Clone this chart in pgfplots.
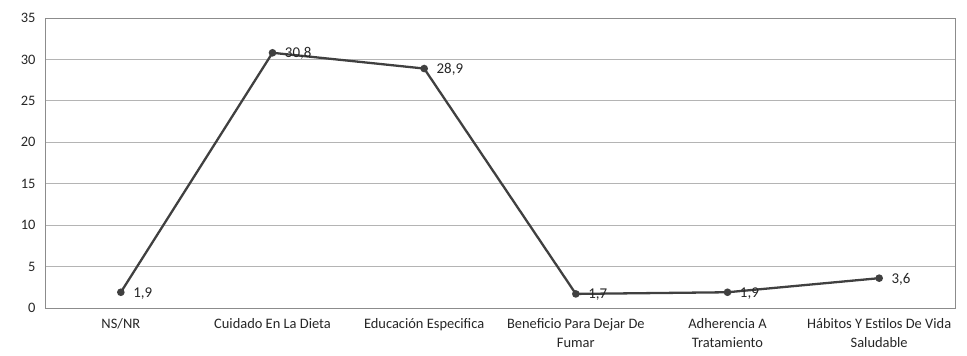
\documentclass[border=0pt]{standalone}
\usepackage{pgfplots}
\pgfplotsset{compat=1.18}
\usepackage{fontspec}
\setmainfont{Carlito}
\definecolor{linegray}{HTML}{404040}
\definecolor{gridgray}{HTML}{B4B4B4}
\definecolor{framegray}{HTML}{8C8C8C}
\definecolor{textgray}{HTML}{262626}
\begin{document}
\begin{tikzpicture}
\begin{axis}[
  scale only axis,
  width=910bp, height=290bp,
  xmin=-0.5, xmax=5.5,
  ymin=0, ymax=35,
  ytick={0,5,...,35},
  xtick={0,...,5},
  xticklabels={NS/NR, Cuidado En La Dieta, Educación Especifica,
    {Beneficio Para Dejar De\\Fumar}, {Adherencia A\\Tratamiento},
    {Hábitos Y Estilos De Vida\\Saludable}},
  major tick length=0pt,
  ymajorgrids,
  grid style={gridgray, line width=0.8pt},
  axis line style={framegray, line width=0.8pt},
  tick label style={textgray, font=\fontsize{14.5}{19}\selectfont},
  xticklabel style={align=center, yshift=-7bp},
  yticklabel style={xshift=-6bp},
  /pgf/number format/assume math mode=true,
  clip=false,
]
\addplot[linegray, line width=2.3pt, mark=*, mark size=2.6pt,
  mark options={fill=linegray, draw=linegray},
  nodes near coords={\pgfmathprintnumber[fixed, precision=1, fixed zerofill, use comma]{\pgfplotspointmeta}},
  nodes near coords style={anchor=west, xshift=8bp, yshift=-1bp, textgray,
    font=\fontsize{15}{19}\selectfont},
] coordinates {
  (0,1.9) (1,30.8) (2,28.9) (3,1.7) (4,1.9) (5,3.6)
};
\end{axis}
\useasboundingbox (-45bp,-48bp) rectangle (922bp,308bp);
\end{tikzpicture}
\end{document}
